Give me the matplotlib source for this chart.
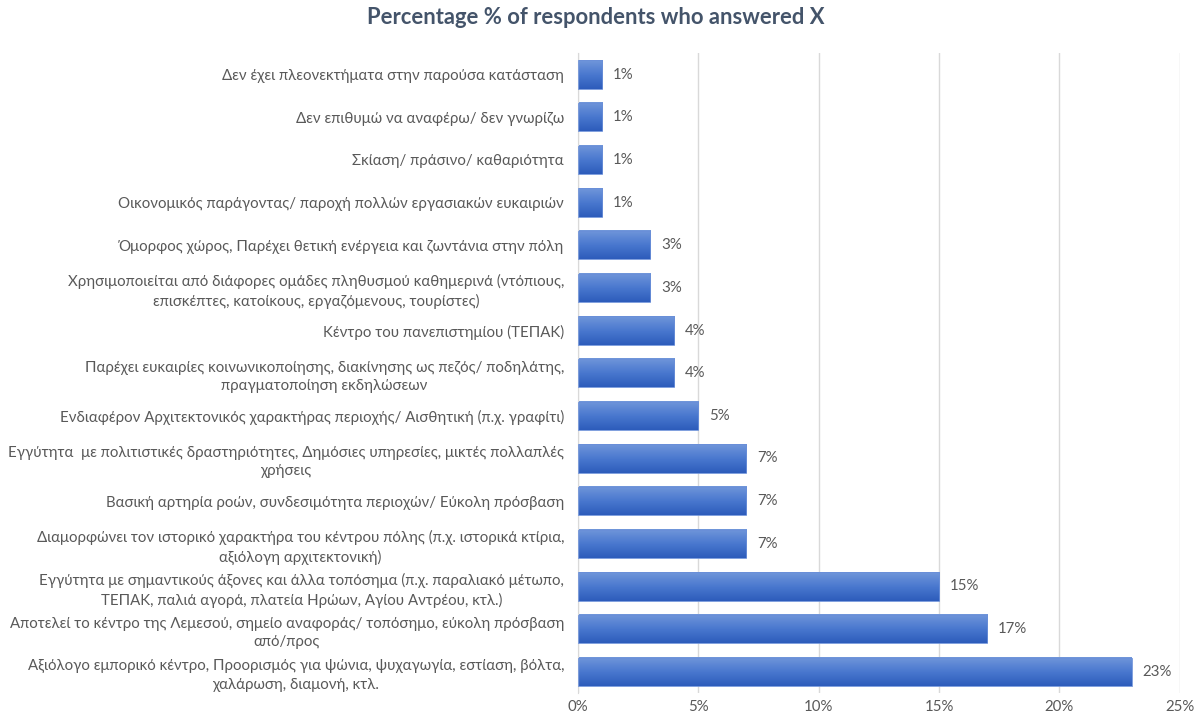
import numpy as np
import matplotlib.pyplot as plt
from matplotlib.colors import LinearSegmentedColormap
from matplotlib.ticker import FuncFormatter

labels = [
    "Δεν έχει πλεονεκτήματα στην παρούσα κατάσταση",
    "Δεν επιθυμώ να αναφέρω/ δεν γνωρίζω",
    "Σκίαση/ πράσινο/ καθαριότητα",
    "Οικονομικός παράγοντας/ παροχή πολλών εργασιακών ευκαιριών",
    "Όμορφος χώρος, Παρέχει θετική ενέργεια και ζωντάνια στην πόλη",
    "Χρησιμοποιείται από διάφορες ομάδες πληθυσμού καθημερινά (ντόπιους,\nεπισκέπτες, κατοίκους, εργαζόμενους, τουρίστες)",
    "Κέντρο του πανεπιστημίου (ΤΕΠΑΚ)",
    "Παρέχει ευκαιρίες κοινωνικοποίησης, διακίνησης ως πεζός/ ποδηλάτης,\nπραγματοποίηση εκδηλώσεων",
    "Ενδιαφέρον Αρχιτεκτονικός χαρακτήρας περιοχής/ Αισθητική (π.χ. γραφίτι)",
    "Εγγύτητα  με πολιτιστικές δραστηριότητες, Δημόσιες υπηρεσίες, μικτές πολλαπλές\nχρήσεις",
    "Βασική αρτηρία ροών, συνδεσιμότητα περιοχών/ Εύκολη πρόσβαση",
    "Διαμορφώνει τον ιστορικό χαρακτήρα του κέντρου πόλης (π.χ. ιστορικά κτίρια,\nαξιόλογη αρχιτεκτονική)",
    "Εγγύτητα με σημαντικούς άξονες και άλλα τοπόσημα (π.χ. παραλιακό μέτωπο,\nΤΕΠΑΚ, παλιά αγορά, πλατεία Ηρώων, Αγίου Αντρέου, κτλ.)",
    "Αποτελεί το κέντρο της Λεμεσού, σημείο αναφοράς/ τοπόσημο, εύκολη πρόσβαση\nαπό/προς",
    "Αξιόλογο εμπορικό κέντρο, Προορισμός για ψώνια, ψυχαγωγία, εστίαση, βόλτα,\nχαλάρωση, διαμονή, κτλ.",
]
values = [1, 1, 1, 1, 3, 3, 4, 4, 5, 7, 7, 7, 15, 17, 23]
xticks = [0, 5, 10, 15, 20, 25]

plt.rcParams['font.family'] = ['Lato', 'DejaVu Sans']
text_col = '#595959'

fig = plt.figure(figsize=(11.99, 7.19), dpi=100)
ax = fig.add_axes([0.482, 0.036, 0.502, 0.890])

y = np.arange(len(values))
bars = ax.barh(y, values, height=0.66, color='none', edgecolor='#6a8fd8', linewidth=0.6, zorder=3)

# vertical gradient fill inside each bar
grad = LinearSegmentedColormap.from_list('bar', ['#7096da', '#4a78cf', '#2d5cbb'])
img = np.linspace(0, 1, 64).reshape(-1, 1)
for b in bars:
    x0, y0 = b.get_x(), b.get_y()
    w, h = b.get_width(), b.get_height()
    ax.imshow(img, cmap=grad, aspect='auto', origin='upper',
              extent=(x0, x0 + w, y0 + h, y0), zorder=2, interpolation='bilinear')

for yi, v in zip(y, values):
    ax.text(v + 0.45, yi, f"{v}%", va='center', ha='left', fontsize=10.8, color=text_col)

ax.set_xlim(0, 25)
ax.set_ylim(len(values) - 0.5, -0.5)
ax.set_yticks(y)
ax.set_yticklabels(labels, fontsize=10.8, color=text_col, multialignment='center', linespacing=1.4)
ax.set_xticks(xticks)
ax.xaxis.set_major_formatter(FuncFormatter(lambda v, p: f"{v:.0f}%"))
ax.tick_params(axis='x', colors=text_col, labelsize=10.8, length=0, pad=5)
ax.tick_params(axis='y', length=0, pad=10)

ax.grid(axis='x', color='#d9d9d9', linewidth=1, zorder=0)
ax.set_axisbelow(True)
for s in ['top', 'right', 'bottom']:
    ax.spines[s].set_visible(False)
ax.spines['left'].set_color('#d9d9d9')

fig.text(0.497, 0.975, "Percentage % of respondents who answered X", ha='center', va='center',
         fontsize=15.8, fontweight='bold', color='#44546a')

fig.savefig('out.png', dpi=100)
